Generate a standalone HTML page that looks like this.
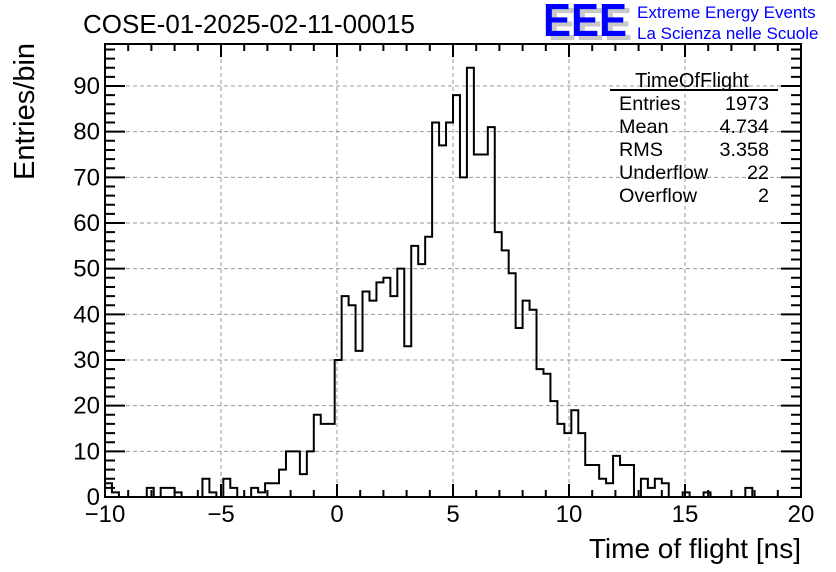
<!DOCTYPE html>
<html><head><meta charset="utf-8"><style>
html,body{margin:0;padding:0;background:#fff;}
svg{display:block;font-family:"Liberation Sans",sans-serif;}
</style></head><body>
<svg id="c" width="836" height="572" viewBox="0 0 836 572" xmlns="http://www.w3.org/2000/svg">
<rect width="836" height="572" fill="#fff"/>
<text x="83" y="33" font-size="26">COSE-01-2025-02-11-00015</text>
<g>
<text x="548" y="40" font-size="46" font-weight="bold" fill="#c8c8c8" textLength="84" lengthAdjust="spacingAndGlyphs">EEE</text>
<text x="543" y="36" font-size="46" font-weight="bold" fill="#0000ff" textLength="84" lengthAdjust="spacingAndGlyphs">EEE</text>
<text x="637" y="18" font-size="17" fill="#0000ff">Extreme Energy Events</text>
<text x="637" y="39" font-size="17" fill="#0000ff">La Scienza nelle Scuole</text>
</g>
<g id="grid"></g>
<g id="axes"></g>
<path id="hist" fill="none" stroke="#000" stroke-width="2"/>
<rect x="105" y="44" width="696" height="453" fill="none" stroke="#000" stroke-width="2"/>
<g font-size="19.8">
<text x="692" y="87" text-anchor="middle" font-size="20">TimeOfFlight</text>
<line x1="610" y1="90" x2="778" y2="90" stroke="#000" stroke-width="2"/>
<text x="619" y="110">Entries</text><text x="769" y="110" text-anchor="end">1973</text>
<text x="619" y="133">Mean</text><text x="769" y="133" text-anchor="end">4.734</text>
<text x="619" y="156">RMS</text><text x="769" y="156" text-anchor="end">3.358</text>
<text x="619" y="179">Underflow</text><text x="769" y="179" text-anchor="end">22</text>
<text x="619" y="202">Overflow</text><text x="769" y="202" text-anchor="end">2</text>
</g>
<text x="801" y="558" font-size="28" text-anchor="end">Time of flight [ns]</text>
<text transform="translate(34,180) rotate(-90)" font-size="29">Entries/bin</text>
</svg>
<script>
const binStart = -10;
const binWidth = 0.3;
const counts = [3,1,0,0,0,0,2,0,2,2,1,0,0,0,4,1,0,4,2,0,0,2,1,3,3,6,10,10,5,10,18,16,16,30,44,42,32,45,43,47,48,44,50,33,55,51,57,82,77,82,88,70,94,75,75,81,58,54,49,37,43,41,28,27,21,16,14,19,14,7,7,4,3,9,7,7,0,4,2,4,3,0,0,1,0,0,1,0,0,0,0,0,2,0,0,0,0,0,0,0];
const xTicks = [-10,-5,0,5,10,15,20];
const yTicks = [0,10,20,30,40,50,60,70,80,90];
const X0=105,X1=801,Y0=497,Y1=44, xMin=-10,xMax=20,yMin=0,yMax=99.2;
const sx=v=>X0+(v-xMin)/(xMax-xMin)*(X1-X0);
const sy=v=>Y0-(v-yMin)/(yMax-yMin)*(Y0-Y1);
const NS="http://www.w3.org/2000/svg";
function mk(t,a,p){const e=document.createElementNS(NS,t);for(const k in a)e.setAttribute(k,a[k]);p.appendChild(e);return e;}
const grid=document.getElementById('grid'), axes=document.getElementById('axes');
xTicks.forEach(v=>{
  if(v>xMin&&v<xMax){const g=mk('line',{x1:sx(v),x2:sx(v),y1:Y0,y2:Y1,stroke:'#999','stroke-dasharray':'4,3','stroke-width':1},grid);
  
  }
  const t=mk('text',{x:sx(v),y:522,'font-size':24,'text-anchor':'middle'},axes);t.textContent=(v<0?'\u2212'+(-v):v);
  
  
});
yTicks.forEach(v=>{
  if(v>yMin){const g=mk('line',{x1:X0,x2:X1,y1:sy(v),y2:sy(v),stroke:'#999','stroke-dasharray':'4,3','stroke-width':1},grid);
  
  }
  const t=mk('text',{x:100,y:sy(v)+8,'font-size':24,'text-anchor':'end'},axes);t.textContent=v;
  
  
});
let tp='';
for(let v=xMin;v<=xMax;v++){const L=(v%5===0)?13:7;tp+=`M${sx(v)},${Y0}v${-L}M${sx(v)},${Y1}v${L}`;}
for(let v=0;v<=98;v+=2){const L=(v%10===0)?20:10;tp+=`M${X0},${sy(v)}h${L}M${X1},${sy(v)}h${-L}`;}
const tk=mk('path',{d:tp,stroke:'#000','stroke-width':2,fill:'none'},axes);


let d=`M${sx(binStart)},${sy(0)}`;
counts.forEach((c,i)=>{const a=binStart+i*binWidth;d+=`L${sx(a)},${sy(c)}L${sx(a+binWidth)},${sy(c)}`;});
d+=`L${sx(binStart+counts.length*binWidth)},${sy(0)}`;
document.getElementById('hist').setAttribute('d',d);
</script>
</body></html>
